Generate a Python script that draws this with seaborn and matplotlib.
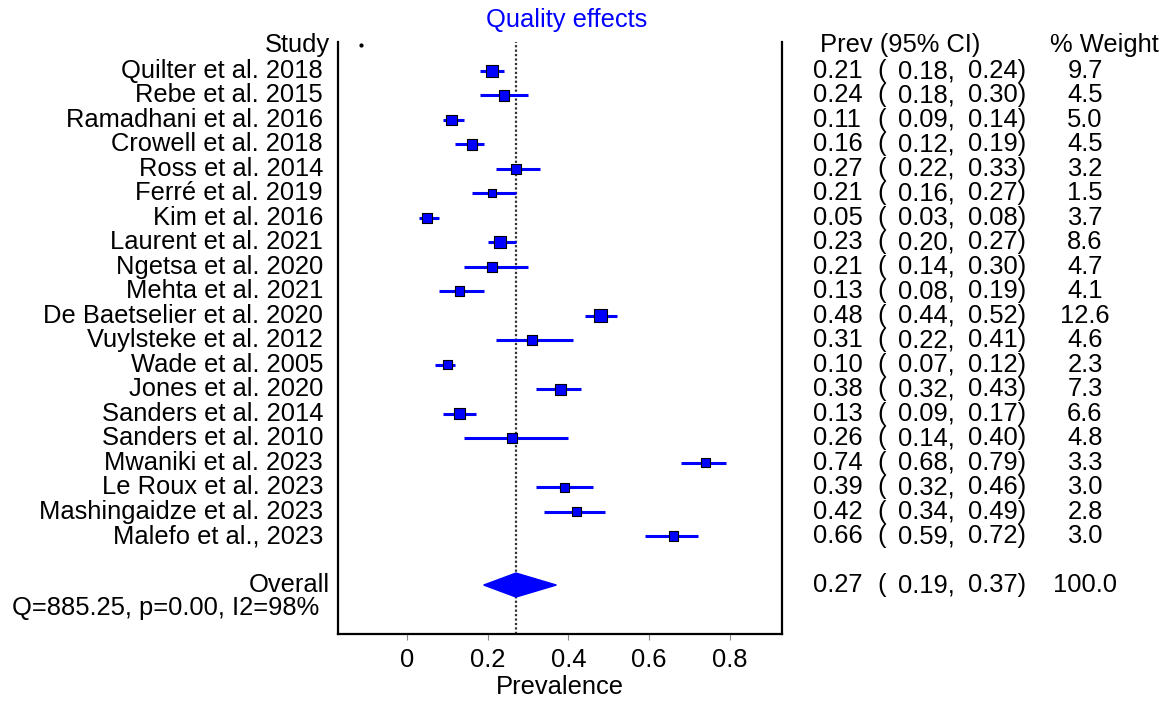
import numpy as np
import pandas as pd
import seaborn as sns
from matplotlib import pyplot as plt
from matplotlib.patches import Polygon
import matplotlib.transforms as mtransforms

studies = ["Quilter et al. 2018", "Rebe et al. 2015", "Ramadhani et al. 2016", "Crowell et al. 2018",
           "Ross et al. 2014", "Ferré et al. 2019", "Kim et al. 2016", "Laurent et al. 2021",
           "Ngetsa et al. 2020", "Mehta et al. 2021", "De Baetselier et al. 2020", "Vuylsteke et al. 2012",
           "Wade et al. 2005", "Jones et al. 2020", "Sanders et al. 2014", "Sanders et al. 2010",
           "Mwaniki et al. 2023", "Le Roux et al. 2023", "Mashingaidze et al. 2023", "Malefo et al., 2023"]
prev = [0.21, 0.24, 0.11, 0.16, 0.27, 0.21, 0.05, 0.23, 0.21, 0.13,
        0.48, 0.31, 0.10, 0.38, 0.13, 0.26, 0.74, 0.39, 0.42, 0.66]
lower = [0.18, 0.18, 0.09, 0.12, 0.22, 0.16, 0.03, 0.20, 0.14, 0.08,
         0.44, 0.22, 0.07, 0.32, 0.09, 0.14, 0.68, 0.32, 0.34, 0.59]
upper = [0.24, 0.30, 0.14, 0.19, 0.33, 0.27, 0.08, 0.27, 0.30, 0.19,
         0.52, 0.41, 0.12, 0.43, 0.17, 0.40, 0.79, 0.46, 0.49, 0.72]
weight = [9.7, 4.5, 5.0, 4.5, 3.2, 1.5, 3.7, 8.6, 4.7, 4.1,
          12.6, 4.6, 2.3, 7.3, 6.6, 4.8, 3.3, 3.0, 2.8, 3.0]
overall = (0.27, 0.19, 0.37, 100.0)
het_text = "Q=885.25, p=0.00, I2=98%"

df = pd.DataFrame({"study": studies, "prev": prev, "lower": lower, "upper": upper, "weight": weight})
df["row"] = np.arange(len(df))
df["box"] = np.sqrt(df["weight"])  # box area grows with sqrt(weight)
ov_row = len(df) + 1

sns.set_style("white")
plt.rcParams['font.family'] = ['Liberation Sans', 'DejaVu Sans']
plt.rcParams['text.color'] = 'black'
plt.rcParams['axes.labelcolor'] = 'black'
plt.rcParams['xtick.color'] = 'black'
FS = 18.4

fig = plt.figure(figsize=(11.72, 7.02), dpi=100)
ax = fig.add_axes([338 / 1172, 1 - 634 / 702, (782 - 338) / 1172, (634 - 42) / 702])

blue = "#0000ff"
ax.hlines(df["row"], df["lower"], df["upper"], color=blue, lw=2.2, zorder=2)
sns.scatterplot(data=df, x="prev", y="row", size="box", sizes=(32, 88),
                size_norm=(df["box"].min(), df["box"].max()), marker="s", color=blue, edgecolor="black",
                linewidth=0.8, legend=False, ax=ax, zorder=3)

# overall diamond
ox, olo, ohi, ow = overall
ax.add_patch(Polygon([[olo, ov_row], [ox, ov_row - 0.49], [ohi, ov_row], [ox, ov_row + 0.49]],
                     closed=True, color=blue, zorder=3))
ax.axvline(ox, color="#333333", ls=(0, (1, 1)), lw=1.6, zorder=1)
ax.plot([-0.115], [-1.06], marker="o", ms=2, color="black")

ax.set_xlim(-0.171, 0.929)
ax.set_ylim(23.0, -1.185)
ax.set_xticks([0, 0.2, 0.4, 0.6, 0.8])
ax.set_xticklabels(["0", "0.2", "0.4", "0.6", "0.8"], fontsize=FS)
ax.set_yticks([])
ax.tick_params(axis="x", length=4, color="#888888", labelcolor="black", pad=6, bottom=True)
ax.set_xlabel("Prevalence", fontsize=FS, labelpad=2)
ax.set_ylabel("")
for s in ["left", "right", "bottom"]:
    ax.spines[s].set_color("black")
    ax.spines[s].set_linewidth(1.6)
ax.spines["top"].set_visible(False)

tr = mtransforms.blended_transform_factory(fig.transFigure, ax.transData)
W = 1172.0

def put(xpx, y, s, ha="left", **kw):
    ax.text(xpx / W, y, s, transform=tr, ha=ha, va="center", fontsize=FS, color="black",
            clip_on=False, **kw)

put(330, -1.06, "Study", ha="right")
put(820, -1.06, "Prev (95% CI)")
put(1050, -1.06, "% Weight")
for r, row in df.iterrows():
    put(323, row["row"], row["study"], ha="right")
    put(813, row["row"], f"{row['prev']:.2f}")
    put(877, row["row"], "(")
    put(898, row["row"], f"{row['lower']:.2f},")
    put(968, row["row"], f"{row['upper']:.2f})")
    put(1085, row["row"], f"{row['weight']:.1f}", ha="center")

put(330, ov_row, "Overall", ha="right")
put(813, ov_row, f"{ox:.2f}")
put(877, ov_row, "(")
put(898, ov_row, f"{olo:.2f},")
put(968, ov_row, f"{ohi:.2f})")
put(1085, ov_row, f"{ow:.1f}", ha="center")
put(12, 21.94, het_text)

fig.text(567 / W, 1 - 20 / 702, "Quality effects", color=blue, ha="center", va="center", fontsize=FS)

fig.savefig("out.png", dpi=100)
